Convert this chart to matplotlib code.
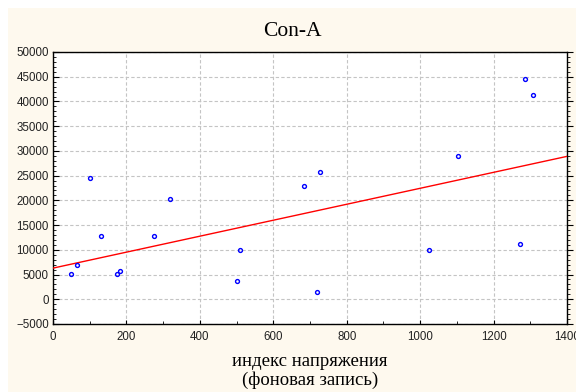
import matplotlib
matplotlib.use("Agg")
import matplotlib.pyplot as plt
import numpy as np
from matplotlib.ticker import MultipleLocator
from matplotlib.patches import Rectangle

# Data
stress_index = [50, 65, 101, 131, 174, 182, 275, 320, 501, 509,
                683, 719, 727, 1025, 1104, 1272, 1286, 1308]
con_a = [5200, 6900, 24600, 12800, 5200, 5800, 12800, 20300, 3600, 10000,
         23000, 1400, 25700, 10000, 28900, 11200, 44500, 41400]
fit_intercept = 6300
fit_slope = 16.14

title = "Con-A"
xlabel = "индекс напряжения\n(фоновая запись)"

W, H = 576, 392
fig = plt.figure(figsize=(W / 100, H / 100), dpi=100)
fig.patch.set_facecolor("white")
fig.patches.append(Rectangle((8 / W, 0), 1 - 8 / W, 1 - 8 / H,
                             transform=fig.transFigure, facecolor="#fef9ee",
                             edgecolor="none", zorder=-10))

ax = fig.add_axes([53 / W, 1 - 324 / H, (567 - 53) / W, (324 - 52) / H])
ax.set_facecolor("white")

ax.set_xlim(0, 1400)
ax.set_ylim(-5000, 50000)
ax.xaxis.set_major_locator(MultipleLocator(200))
ax.xaxis.set_minor_locator(MultipleLocator(100))
ax.yaxis.set_major_locator(MultipleLocator(5000))
ax.yaxis.set_minor_locator(MultipleLocator(1000))

ax.grid(True, which="major", color="#c4c4c4", linestyle=(0, (3, 2)), linewidth=0.8)
ax.set_axisbelow(True)

xs = np.array([0, 1400])
ax.plot(xs, fit_intercept + fit_slope * xs, color="#ff0000", linewidth=1.0, zorder=3)
ax.plot(stress_index, con_a, linestyle="none", marker="o", markersize=2.8,
        markerfacecolor="none", markeredgecolor="#0000ff", markeredgewidth=1.0, zorder=4)

for s in ax.spines.values():
    s.set_linewidth(1.0)
    s.set_color("black")

ax.tick_params(axis="y", which="both", left=True, right=True, direction="in",
               labelsize=8.3, labelcolor="#222222", pad=3)
ax.tick_params(axis="y", which="major", length=4)
ax.tick_params(axis="y", which="minor", length=2.5)
ax.tick_params(axis="x", which="both", bottom=True, top=False, direction="in",
               labelsize=8.3, labelcolor="#222222", pad=5)
ax.tick_params(axis="x", which="major", length=3)
ax.tick_params(axis="x", which="minor", length=2)
# right ticks point outward
for t in ax.yaxis.get_major_ticks() + ax.yaxis.get_minor_ticks():
    t.tick2line.set_marker(matplotlib.lines.TICKRIGHT)

for lab in ax.get_xticklabels() + ax.get_yticklabels():
    lab.set_family(["Liberation Sans", "DejaVu Sans"])

fig.text(292 / W, 1 - 32 / H, title, ha="center", va="center",
         fontsize=15.5, family=["Liberation Serif", "DejaVu Serif"])
fig.text(310 / W, 1 - 371 / H, xlabel, ha="center", va="center",
         fontsize=13.5, linespacing=1.15, family=["Liberation Serif", "DejaVu Serif"])

fig.savefig("out.png", dpi=100, facecolor=fig.get_facecolor())
